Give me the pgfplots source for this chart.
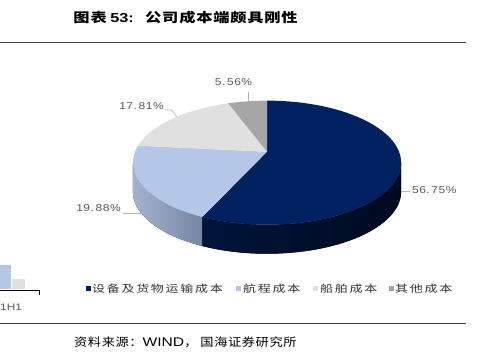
\documentclass[border=0pt]{standalone}
\usepackage{pgfplots}
\pgfplotsset{compat=1.18}
\usepackage{pgfplotstable}
\usepackage{fontspec}
\setmainfont{Liberation Sans}
\newfontfamily\cjkT{Noto Sans CJK SC}[FakeStretch=1.25, LetterSpace=6]
\newfontfamily\latT{Liberation Sans}[FakeStretch=1.25]
\newfontfamily\cjkL{Noto Sans CJK SC}[FakeStretch=1.3, LetterSpace=17]
\newfontfamily\cjkS{Noto Sans CJK SC}[FakeStretch=1.15, LetterSpace=5]
\newfontfamily\latS{Liberation Sans}[FakeStretch=1.25]
\newfontfamily\labf{Liberation Sans}[FakeStretch=1.2, LetterSpace=5]

\definecolor{navy}{HTML}{002060}
\definecolor{ltblue}{HTML}{B4C7E7}
\definecolor{ltgray}{HTML}{E0E0E0}
\definecolor{midgray}{HTML}{A6A6A6}
\definecolor{navysideL}{HTML}{00143A}
\definecolor{navysideR}{HTML}{000A1F}
\definecolor{bluesideL}{HTML}{A3B3CF}
\definecolor{bluesideR}{HTML}{7787A3}
\definecolor{leader}{HTML}{A9B6C8}
\definecolor{labtxt}{HTML}{595959}
\definecolor{legtxt}{HTML}{333333}
\definecolor{rule}{HTML}{404040}

\pgfplotstableread{
cat share
1 56.75
2 19.88
3 17.81
4 5.56
}\piedata

% perspective factor of the 3D pie
\def\pk{0.177}
\newcommand\rimphi[2]{%
  \pgfmathsetmacro\rc{cos(#1)}%
  \pgfmathsetmacro\rs{sin(#1)}%
  \pgfmathsetmacro\rden{1+\pk*\rc}%
  \pgfmathsetmacro\ru{\rs/\rden}%
  \pgfmathsetmacro\rv{\rc/\rden}%
  \pgfmathsetmacro#2{atan2((\rv+\pk/(1-\pk*\pk))*(1-\pk*\pk),\ru*sqrt(1-\pk*\pk))}%
}

\begin{document}
\begin{tikzpicture}
\pgfplotstablegetelem{0}{share}\of\piedata \let\sA\pgfplotsretval
\pgfplotstablegetelem{1}{share}\of\piedata \let\sB\pgfplotsretval
\pgfplotstablegetelem{2}{share}\of\piedata \let\sC\pgfplotsretval
\pgfmathsetmacro\tA{3.6*\sA}
\pgfmathsetmacro\tB{3.6*(\sA+\sB)}
\pgfmathsetmacro\tC{3.6*(\sA+\sB+\sC)}
\rimphi{\tA}{\pA}
\rimphi{\tB}{\pB}
\rimphi{\tC}{\pC}
\pgfmathsetmacro\pBm{\pB-360}
\def\Rx{134.12bp}
\def\Ry{62.04bp}
\path[use as bounding box] (0,0) rectangle (484bp,352bp);
\begin{axis}[
  at={(0,0)}, anchor=south west,
  width=484bp, height=352bp, scale only axis,
  xmin=0, xmax=484, ymin=0, ymax=352,
  hide axis, clip=false,
]
% partial neighbouring chart at left
\addplot[fill=ltblue, draw=none] coordinates {(0,62.7) (11,62.7) (11,87) (0,87)} -- cycle;
\addplot[fill=ltgray, draw=none] coordinates {(11.7,62.7) (25,62.7) (25,72.7) (11.7,72.7)} -- cycle;
\draw[black, line width=0.8pt] (axis cs:0,62) -- (axis cs:39.3,62) -- (axis cs:39.3,57);
\node[anchor=west, inner sep=0, text=labtxt, font=\latS\fontsize{9.5bp}{11bp}\selectfont] at (axis cs:0,44.5) {1H1};

% rules
\draw[rule, line width=0.8pt] (axis cs:0,309.7) -- (axis cs:466,309.7);
\draw[rule, line width=0.8pt] (axis cs:0,28.7) -- (axis cs:466,28.7);

% title
\node[anchor=west, inner sep=0, font=\fontsize{13bp}{15bp}\selectfont\bfseries] at (axis cs:73.3,334.5) {{\cjkT 图表} {\latT 53:}};
\node[anchor=west, inner sep=0, font=\cjkT\fontsize{13bp}{15bp}\selectfont\bfseries] at (axis cs:145,334.5) {公司成本端颇具刚性};

% source
\node[anchor=west, inner sep=0, font=\fontsize{11.5bp}{13bp}\selectfont] at (axis cs:74,9.5) {{\cjkS 资料来源：}{\latS\fontsize{12.5bp}{13bp}\selectfont WIND}{\cjkS ，\hspace{3bp}国海证券研究所}};

% side walls
\fill[left color=navysideL, right color=navysideR]
  (axis cs:{267+134.12},189.32) arc[start angle=0, end angle=\pA, x radius=\Rx, y radius=\Ry]
  -- ++(0bp,-29bp) arc[start angle=\pA, end angle=0, x radius=\Rx, y radius=\Ry] -- cycle;
\fill[left color=bluesideL, right color=bluesideR]
  (axis cs:{267+134.12*cos(\pA)},{189.32+62.04*sin(\pA)}) arc[start angle=\pA, end angle=-180, x radius=\Rx, y radius=\Ry]
  -- ++(0bp,-29bp) arc[start angle=-180, end angle=\pA, x radius=\Rx, y radius=\Ry] -- cycle;

% top faces
\fill[navy] (axis cs:267,200.3) -- (axis cs:267,{189.32+62.04})
  arc[start angle=90, end angle=\pA, x radius=\Rx, y radius=\Ry] -- cycle;
\fill[ltblue] (axis cs:267,200.3) -- (axis cs:{267+134.12*cos(\pA)},{189.32+62.04*sin(\pA)})
  arc[start angle=\pA, end angle=\pBm, x radius=\Rx, y radius=\Ry] -- cycle;
\fill[ltgray] (axis cs:267,200.3) -- (axis cs:{267+134.12*cos(\pB)},{189.32+62.04*sin(\pB)})
  arc[start angle=\pB, end angle=\pC, x radius=\Rx, y radius=\Ry] -- cycle;
\fill[midgray] (axis cs:267,200.3) -- (axis cs:{267+134.12*cos(\pC)},{189.32+62.04*sin(\pC)})
  arc[start angle=\pC, end angle=90, x radius=\Rx, y radius=\Ry] -- cycle;

% leader lines
\draw[leader, line width=0.7pt] (axis cs:248.3,260.3) -- (axis cs:248.3,251.3);
\draw[leader, line width=0.7pt] (axis cs:165,242) -- (axis cs:171.5,242) -- (axis cs:176.7,235.3);
\draw[leader, line width=0.7pt] (axis cs:123.3,138.7) -- (axis cs:145,138.7);
\draw[leader, line width=0.7pt] (axis cs:400.7,160.3) -- (axis cs:410,160.3);

% data labels
\tikzset{lab/.style={inner sep=0, text=labtxt, font=\labf\fontsize{10bp}{12bp}\selectfont}}
\node[lab] at (axis cs:233.5,270) {5.\,56\%};
\node[lab] at (axis cs:141.5,246) {17.\,81\%};
\node[lab] at (axis cs:98.5,143.5) {19.\,88\%};
\node[lab] at (axis cs:434.3,161.5) {56.\,75\%};

% legend
\tikzset{leg/.style={anchor=west, inner sep=0, text=legtxt, font=\cjkL\fontsize{10bp}{12bp}\selectfont}}
\fill[navy] (axis cs:86,60.5) rectangle (axis cs:91,65.5);
\node[leg] at (axis cs:92,63) {设备及货物运输成本};
\fill[ltblue] (axis cs:235.5,60.5) rectangle (axis cs:240.5,65.5);
\node[leg] at (axis cs:243,63) {航程成本};
\fill[ltgray] (axis cs:312.5,60.5) rectangle (axis cs:317.5,65.5);
\node[leg] at (axis cs:320,63) {船舶成本};
\fill[midgray] (axis cs:388.5,60.5) rectangle (axis cs:393.5,65.5);
\node[leg] at (axis cs:395,63) {其他成本};
\end{axis}
\end{tikzpicture}
\end{document}
